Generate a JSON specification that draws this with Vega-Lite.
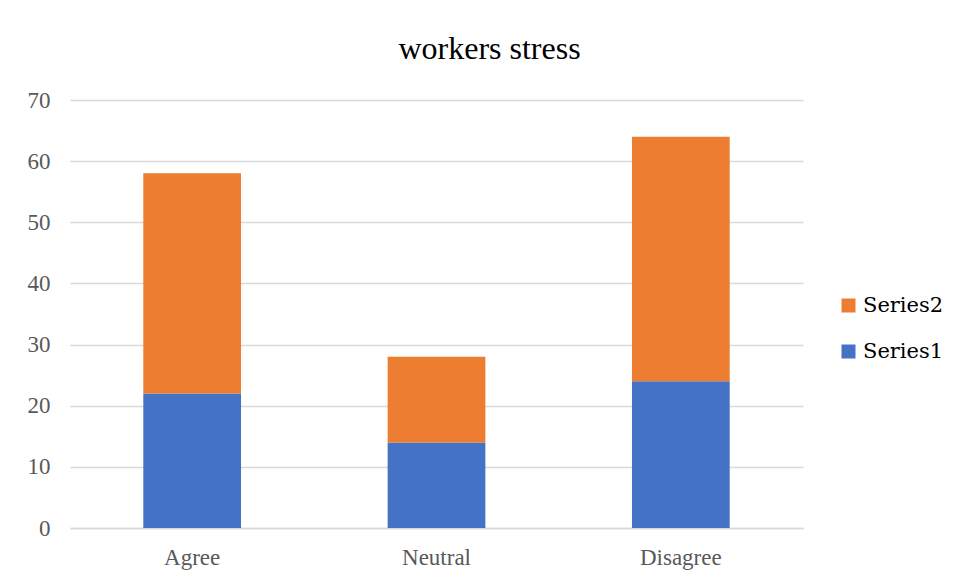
{
  "$schema": "https://vega.github.io/schema/vega-lite/v6.json",
  "autosize": {"type": "none"},
  "width": 733,
  "height": 428,
  "padding": {"left": 70, "top": 100, "right": 156, "bottom": 51},
  "background": "white",
  "title": {
    "text": "workers stress",
    "font": "Liberation Serif",
    "fontSize": 32,
    "fontWeight": "normal",
    "color": "#000000",
    "anchor": "middle",
    "dx": 53,
    "baseline": "alphabetic",
    "offset": -2
  },
  "data": {
    "values": [
      {"category": "Agree", "series": "Series1", "value": 22},
      {"category": "Agree", "series": "Series2", "value": 36},
      {"category": "Neutral", "series": "Series1", "value": 14},
      {"category": "Neutral", "series": "Series2", "value": 14},
      {"category": "Disagree", "series": "Series1", "value": 24},
      {"category": "Disagree", "series": "Series2", "value": 40}
    ]
  },
  "mark": {"type": "bar"},
  "encoding": {
    "x": {
      "field": "category",
      "type": "nominal",
      "sort": ["Agree", "Neutral", "Disagree"],
      "scale": {"paddingInner": 0.6, "paddingOuter": 0.3},
      "axis": {
        "title": null,
        "labelAngle": 0,
        "labelFont": "Liberation Serif",
        "labelFontSize": 23,
        "labelColor": "#595959",
        "ticks": false,
        "domainColor": "#d9d9d9",
        "domainWidth": 1.5,
        "labelPadding": 18
      }
    },
    "y": {
      "field": "value",
      "type": "quantitative",
      "stack": "zero",
      "scale": {"domain": [0, 70]},
      "axis": {
        "title": null,
        "values": [0, 10, 20, 30, 40, 50, 60, 70],
        "labelFont": "Liberation Serif",
        "labelFontSize": 23,
        "labelColor": "#595959",
        "ticks": false,
        "domain": false,
        "gridColor": "#d9d9d9",
        "gridWidth": 1.5,
        "labelPadding": 20
      }
    },
    "color": {
      "field": "series",
      "type": "nominal",
      "scale": {"domain": ["Series2", "Series1"], "range": ["#ED7D31", "#4472C4"]},
      "legend": {
        "title": null,
        "orient": "none",
        "legendX": 768,
        "legendY": 195,
        "symbolType": "square",
        "symbolSize": 196,
        "symbolStrokeWidth": 0,
        "labelFont": "DejaVu Serif",
        "labelFontSize": 21,
        "labelColor": "#000000",
        "rowPadding": 24,
        "labelOffset": 4,
        "padding": 0,
        "labelLimit": 0
      }
    },
    "order": {"field": "series", "type": "nominal", "sort": "ascending"}
  },
  "config": {
    "view": {"stroke": null},
    "font": "Liberation Serif"
  }
}
